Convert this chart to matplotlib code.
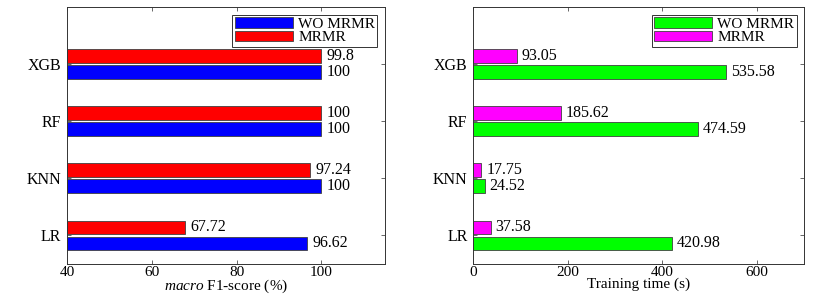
import numpy as np
import matplotlib
matplotlib.use("Agg")
import matplotlib.pyplot as plt

plt.rcParams['font.family'] = ['Liberation Serif', 'DejaVu Serif']
plt.rcParams['mathtext.fontset'] = 'custom'
plt.rcParams['mathtext.it'] = 'Liberation Serif:italic'
plt.rcParams['mathtext.rm'] = 'Liberation Serif'

# data
models = ["LR", "KNN", "RF", "XGB"]
f1_wo = [96.62, 100, 100, 100]
f1_mrmr = [67.72, 97.24, 100, 99.8]
time_wo = [420.98, 24.52, 474.59, 535.58]
time_mrmr = [37.58, 17.75, 185.62, 93.05]
f1_labels_wo = ["96.62", "100", "100", "100"]
f1_labels_mrmr = ["67.72", "97.24", "100", "99.8"]
time_labels_wo = ["420.98", "24.52", "474.59", "535.58"]
time_labels_mrmr = ["37.58", "17.75", "185.62", "93.05"]

fig = plt.figure(figsize=(8.3, 3.0), dpi=100)
ax1 = fig.add_axes([0.0807, 0.12, 0.3833, 0.857])
ax2 = fig.add_axes([0.570, 0.12, 0.399, 0.857])

y = np.arange(1, len(models) + 1)
h = 0.24
off = 0.14
fs = 11.5


def draw(ax, wo, mr, lab_wo, lab_mr, c_wo, c_mr, base, xlim, xticks,
         xlabel, pad):
    # bars start at the left edge of the axis (base)
    ax.barh(y - off, [v - base for v in wo], height=h, left=base, color=c_wo,
            edgecolor='0.25', linewidth=0.6, label="WO MRMR")
    ax.barh(y + off, [v - base for v in mr], height=h, left=base, color=c_mr,
            edgecolor='0.25', linewidth=0.6, label="MRMR")
    ax.set_xlim(*xlim)
    ax.set_ylim(0.5, 5.0)
    ax.set_yticks(y)
    ax.set_yticklabels(models, fontsize=fs)
    ax.set_xticks(xticks)
    ax.tick_params(axis='x', labelsize=fs - 0.5, pad=1.5)
    ax.tick_params(axis='y', pad=4)
    ax.tick_params(direction='in', top=True, right=True, length=3, width=0.6,
                   color='0.3')
    for s in ax.spines.values():
        s.set_linewidth(0.7)
        s.set_color('0.2')
    ax.set_xlabel(xlabel, fontsize=fs - 0.5, labelpad=-1)
    for yi, v, t in zip(y, wo, lab_wo):
        ax.text(v + pad, yi - off, t, va='center', ha='left', fontsize=fs)
    for yi, v, t in zip(y, mr, lab_mr):
        ax.text(v + pad, yi + off, t, va='center', ha='left', fontsize=fs)
    leg = ax.legend(loc='upper right', fontsize=fs - 0.5, fancybox=False,
                    framealpha=1, edgecolor='0.2', handlelength=3.8,
                    handleheight=0.7, borderpad=0.15, labelspacing=0.0,
                    handletextpad=0.35, borderaxespad=0.5)
    leg.get_frame().set_linewidth(0.7)


draw(ax1, f1_wo, f1_mrmr, f1_labels_wo, f1_labels_mrmr,
     '#0000ff', '#ff0000', 40, (40, 115), [40, 60, 80, 100],
     r"$\mathit{macro}$ F1-score (%)", 1.3)
draw(ax2, time_wo, time_mrmr, time_labels_wo, time_labels_mrmr,
     '#00ff00', '#ff00ff', 0, (0, 700), [0, 200, 400, 600],
     "Training time (s)", 10)

fig.savefig("out.png", dpi=100)
